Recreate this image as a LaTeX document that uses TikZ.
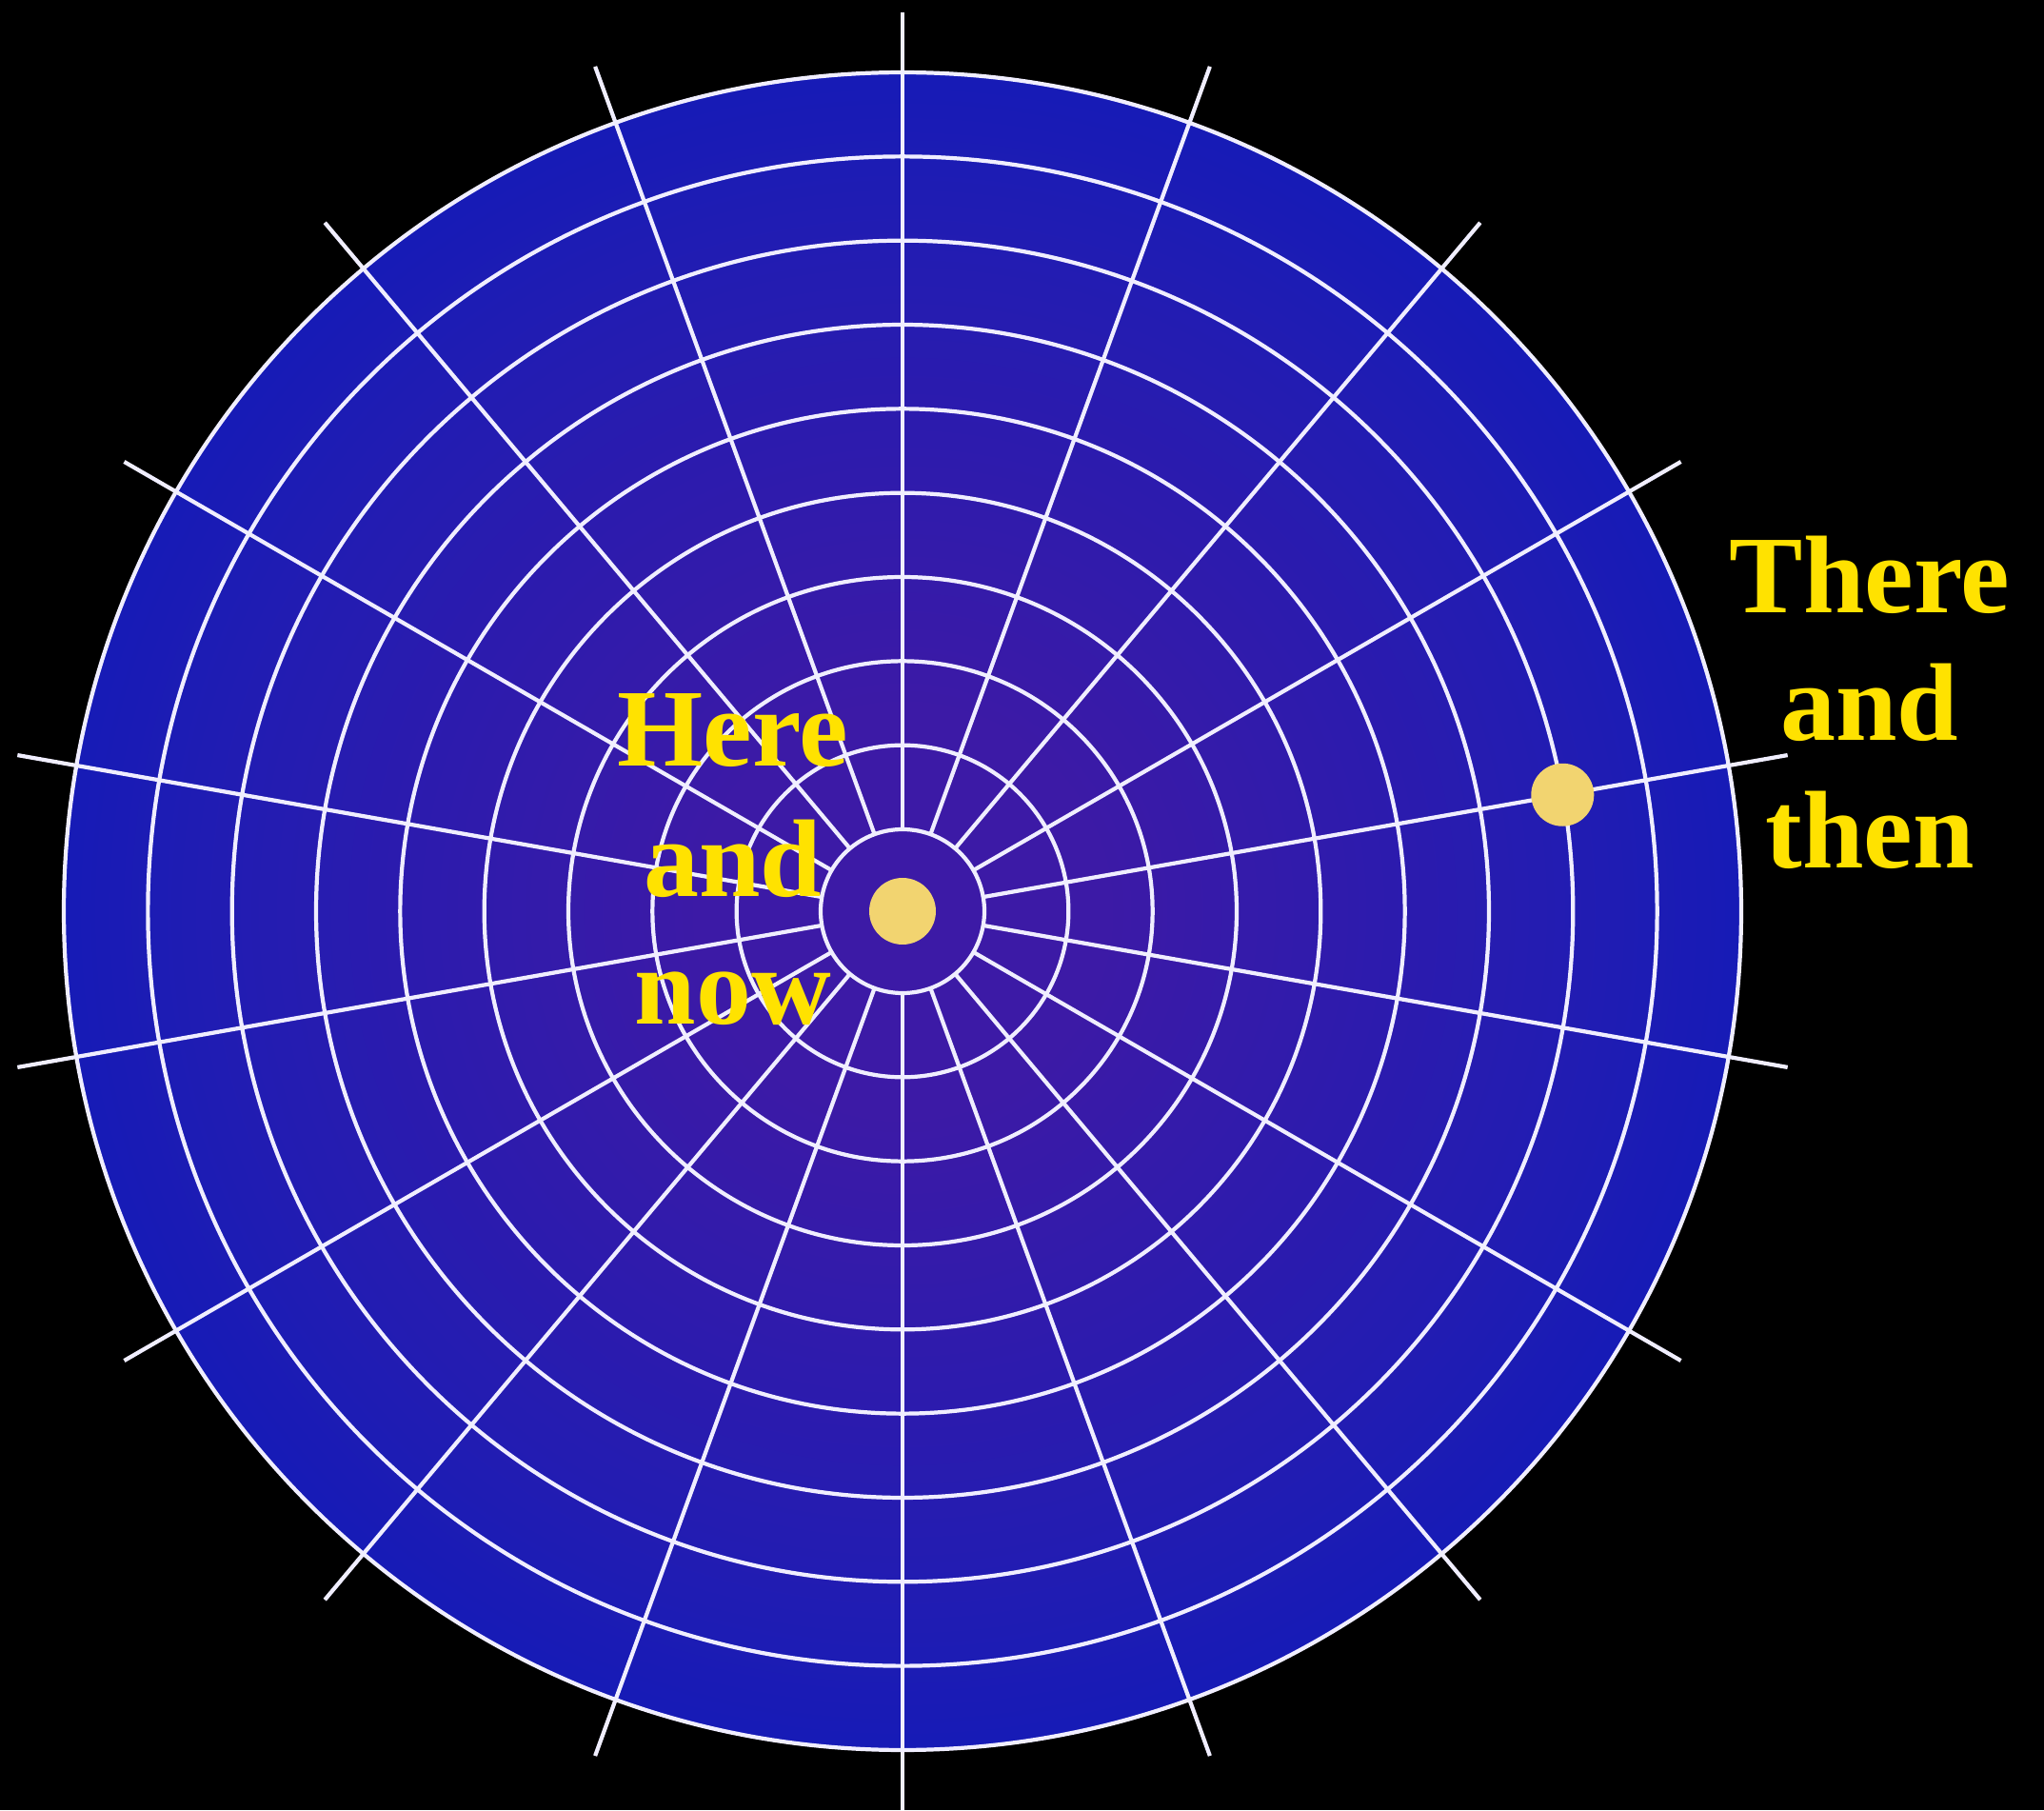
\documentclass[tikz,border=0pt]{standalone}
\usepackage{fontspec}
\setmainfont{Liberation Serif}
\usetikzlibrary{calc}
\definecolor{gridline}{RGB}{240,238,255}
\definecolor{diskin}{RGB}{60,26,166}
\definecolor{diskmid}{RGB}{34,28,178}
\definecolor{diskout}{RGB}{6,26,188}
\definecolor{dotcol}{RGB}{242,212,112}
\definecolor{textyellow}{RGB}{255,226,0}
\pgfdeclareradialshading{diskshade}{\pgfpointorigin}{color(0bp)=(diskin); color(6bp)=(diskin); color(20bp)=(diskmid); color(32bp)=(diskout); color(50bp)=(diskout)}
\tikzset{
  gridstyle/.style={draw=gridline, line width=1.2pt},
  dotstyle/.style={circle, fill=dotcol, inner sep=0pt},
  label/.style={text=textyellow, font=\fontsize{33}{38}\selectfont\bfseries, anchor=base, inner sep=0pt}
}
\begin{document}
\begin{tikzpicture}
\fill[black] (0,0) rectangle (21.47,19.01);
\useasboundingbox (0,0) rectangle (21.47,19.01);
\coordinate (C) at (9.48,9.44);
\shade[shading=diskshade] (C) circle (8.81);
\foreach \a in {10,30,...,350}
  \draw[gridstyle] ($(C)+(\a:0.86)$) -- ($(C)+(\a:9.44)$);
\foreach \k in {0,...,9}
  \draw[gridstyle] (C) circle ({0.86+\k*0.8833});
\node[dotstyle, minimum size=0.70cm] (now) at (C) {};
\node[dotstyle, minimum size=0.66cm] (then) at ($(C)+(10:7.04)$) {};
\node[label] (here1) at (7.70,10.96) {Here};
\node[label] (here2) at (7.70,9.59) {and};
\node[label] (here3) at (7.70,8.26) {now};
\node[label] (there1) at (19.64,12.57) {There};
\node[label] (there2) at (19.64,11.23) {and};
\node[label] (there3) at (19.64,9.90) {then};
\end{tikzpicture}
\end{document}
